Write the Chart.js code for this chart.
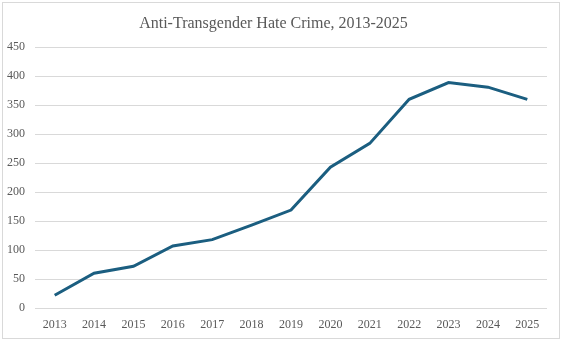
<!DOCTYPE html>
<html lang="en">
<head>
  <meta charset="UTF-8" />
  <title>Anti-Transgender Hate Crime</title>
  <script src="https://cdn.jsdelivr.net/npm/chart.js"></script>
  <style>
    html, body {
      margin: 0;
      padding: 0;
      background: #fff;
    }
    .frame {
      position: absolute;
      left: 2px;
      top: 2px;
      width: 556px;
      height: 335px;
      border: 1px solid #d9d9d9;
    }
    canvas {
      position: absolute;
      left: 0;
      top: 0;
    }
  </style>
</head>
<body>
  <div class="frame"></div>
  <canvas id="hateChart" width="562" height="341"></canvas>

  <script>
    const years = ['2013', '2014', '2015', '2016', '2017', '2018', '2019',
                   '2020', '2021', '2022', '2023', '2024', '2025'];
    const incidents = [22, 60, 72, 107, 118, 143, 169, 243, 284, 360, 389, 381, 360];
    const yTicks = [0, 50, 100, 150, 200, 250, 300, 350, 400, 450];

    const serif = "'Liberation Serif', 'Times New Roman', serif";
    const textColor = '#595959';

    const ctx = document.getElementById('hateChart').getContext('2d');
    new Chart(ctx, {
      type: 'line',
      data: {
        labels: years,
        datasets: [{
          label: 'Incidents',
          data: incidents,
          borderColor: '#1b5e80',
          borderWidth: 3,
          tension: 0,
          pointRadius: 0,
          fill: false
        }]
      },
      options: {
        responsive: false,
        animation: false,
        layout: { padding: { left: 0, right: 15, top: 0, bottom: 0 } },
        plugins: {
          legend: { display: false },
          tooltip: { enabled: false },
          title: {
            display: true,
            text: 'Anti-Transgender Hate Crime, 2013-2025',
            color: textColor,
            font: { family: serif, size: 16, weight: 'normal' },
            padding: { top: 14, bottom: 14 }
          }
        },
        scales: {
          x: {
            offset: true,
            grid: { display: false, drawTicks: false },
            border: { display: false },
            ticks: {
              color: textColor,
              font: { family: serif, size: 12 },
              padding: 10,
              maxRotation: 0
            },
            afterFit: axis => { axis.height = 33; }
          },
          y: {
            min: 0,
            max: 450,
            afterBuildTicks: axis => { axis.ticks = yTicks.map(v => ({ value: v })); },
            grid: { color: '#d9d9d9', lineWidth: 1, drawTicks: false },
            border: { display: false },
            ticks: {
              color: textColor,
              font: { family: serif, size: 12 },
              padding: 10
            },
            afterFit: axis => { axis.width = 35; }
          }
        }
      }
    });
  </script>
</body>
</html>
